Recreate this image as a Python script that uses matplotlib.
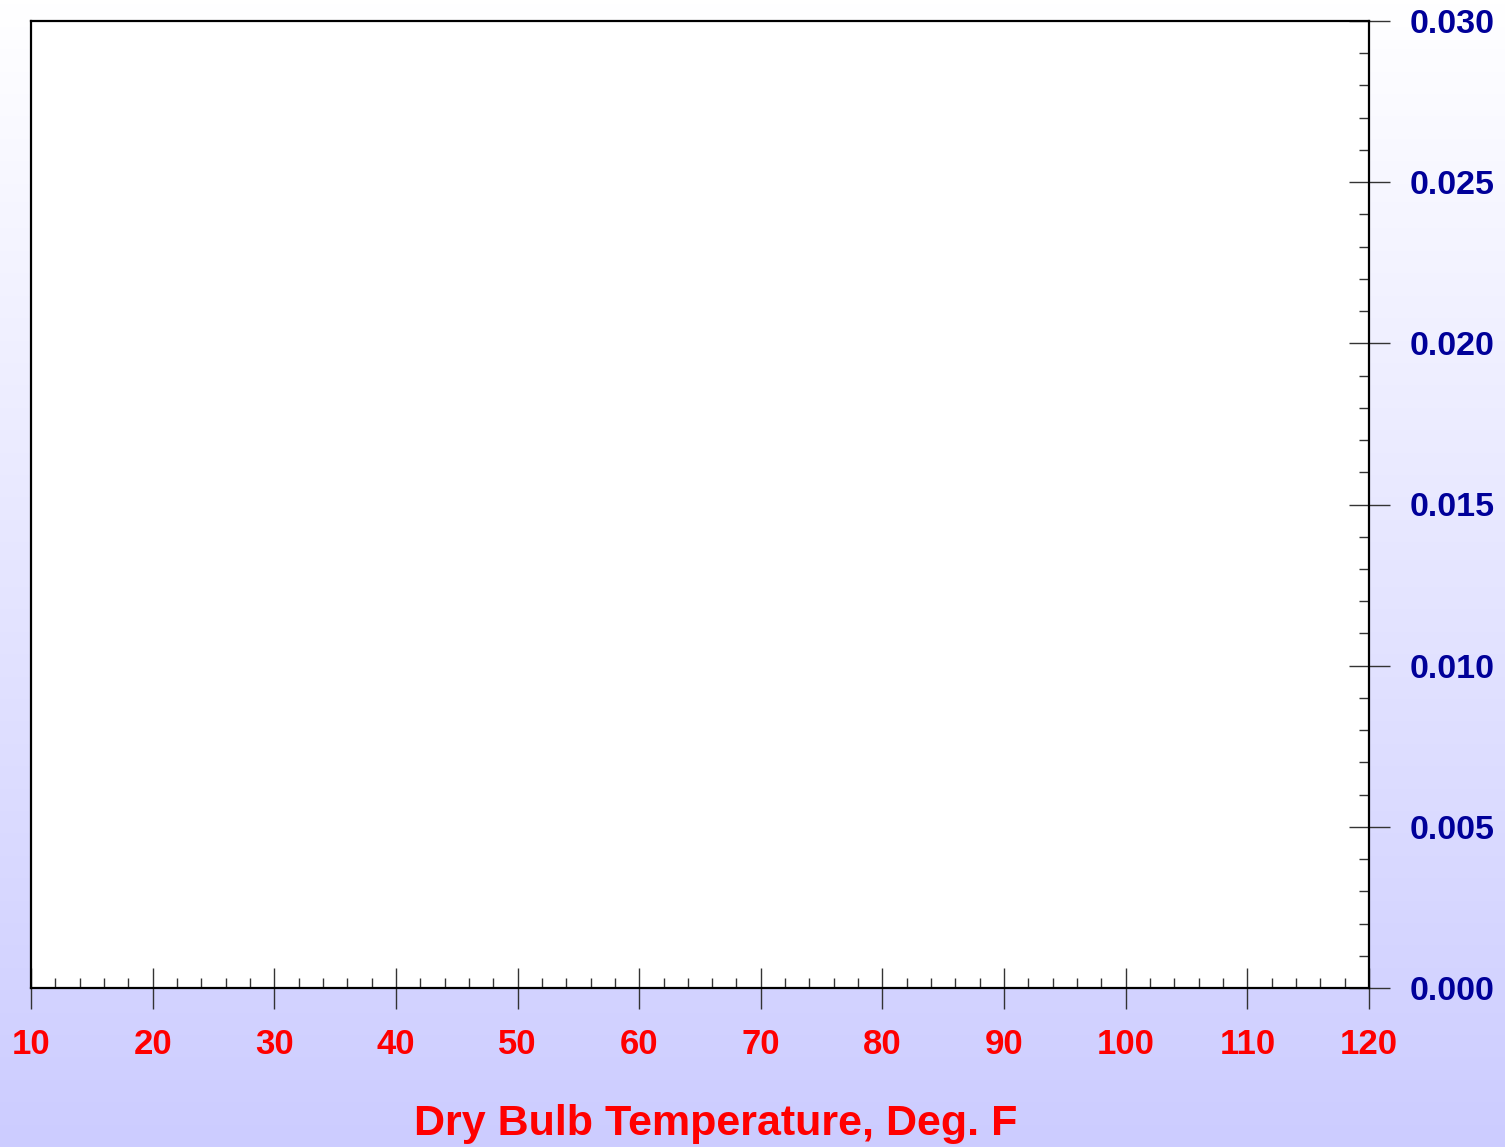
import numpy as np
import matplotlib
matplotlib.use("Agg")
import matplotlib.pyplot as plt
from matplotlib.ticker import MultipleLocator, FormatStrFormatter

x_ticks = [10, 20, 30, 40, 50, 60, 70, 80, 90, 100, 110, 120]
y_ticks = [0.000, 0.005, 0.010, 0.015, 0.020, 0.025, 0.030]
x_label = "Dry Bulb Temperature, Deg. F"

W, H, DPI = 1505, 1147, 100
fig = plt.figure(figsize=(W / DPI, H / DPI), dpi=DPI)
PX = 72.0 / DPI  # points per pixel

# gradient background
bg = fig.add_axes([0, 0, 1, 1], zorder=-10)
grad = np.linspace(0, 1, 256).reshape(-1, 1)
top = np.array([1.0, 1.0, 1.0])
bot = np.array([0xcc, 0xcc, 0xff]) / 255.0
img = top[None, None, :] * (1 - grad[..., None]) + bot[None, None, :] * grad[..., None]
bg.imshow(img, aspect="auto", extent=[0, 1, 0, 1], origin="upper")
bg.axis("off")

l, r, t, b = 31, 1369, 21, 988
ax = fig.add_axes([l / W, 1 - b / H, (r - l) / W, (b - t) / H])
ax.set_facecolor("white")
ax.set_xlim(x_ticks[0], x_ticks[-1])
ax.set_ylim(y_ticks[0], y_ticks[-1])
for s in ax.spines.values():
    s.set_linewidth(1.6)
    s.set_color("black")

ax.set_xticks(x_ticks)
ax.xaxis.set_minor_locator(MultipleLocator(2))
ax.yaxis.tick_right()
ax.set_yticks(y_ticks)
ax.yaxis.set_minor_locator(MultipleLocator(0.001))
ax.yaxis.set_major_formatter(FormatStrFormatter("%.3f"))

ax.tick_params(axis="x", which="major", direction="inout", length=41 * PX, width=1,
               color="#333333", pad=14, labelsize=25, labelcolor="#ff0000")
ax.tick_params(axis="x", which="minor", direction="in", length=10 * PX, width=1, color="#333333")
ax.tick_params(axis="y", which="major", direction="inout", length=41 * PX, width=1,
               color="#333333", pad=14.5, labelsize=24.5, labelcolor="#000099",
               left=False, right=True, labelleft=False, labelright=True)
ax.tick_params(axis="y", which="minor", direction="in", length=10 * PX, width=1,
               color="#333333", left=False, right=True)

for lab in ax.get_xticklabels() + ax.get_yticklabels():
    lab.set_fontfamily("Liberation Sans")
    lab.set_fontweight("bold")

fig.text(716 / W, 1 - 1124 / H, x_label, ha="center", va="center",
         fontsize=31, fontweight="bold", color="#ff0000", family="Liberation Sans")

fig.savefig("out.png", dpi=DPI)
